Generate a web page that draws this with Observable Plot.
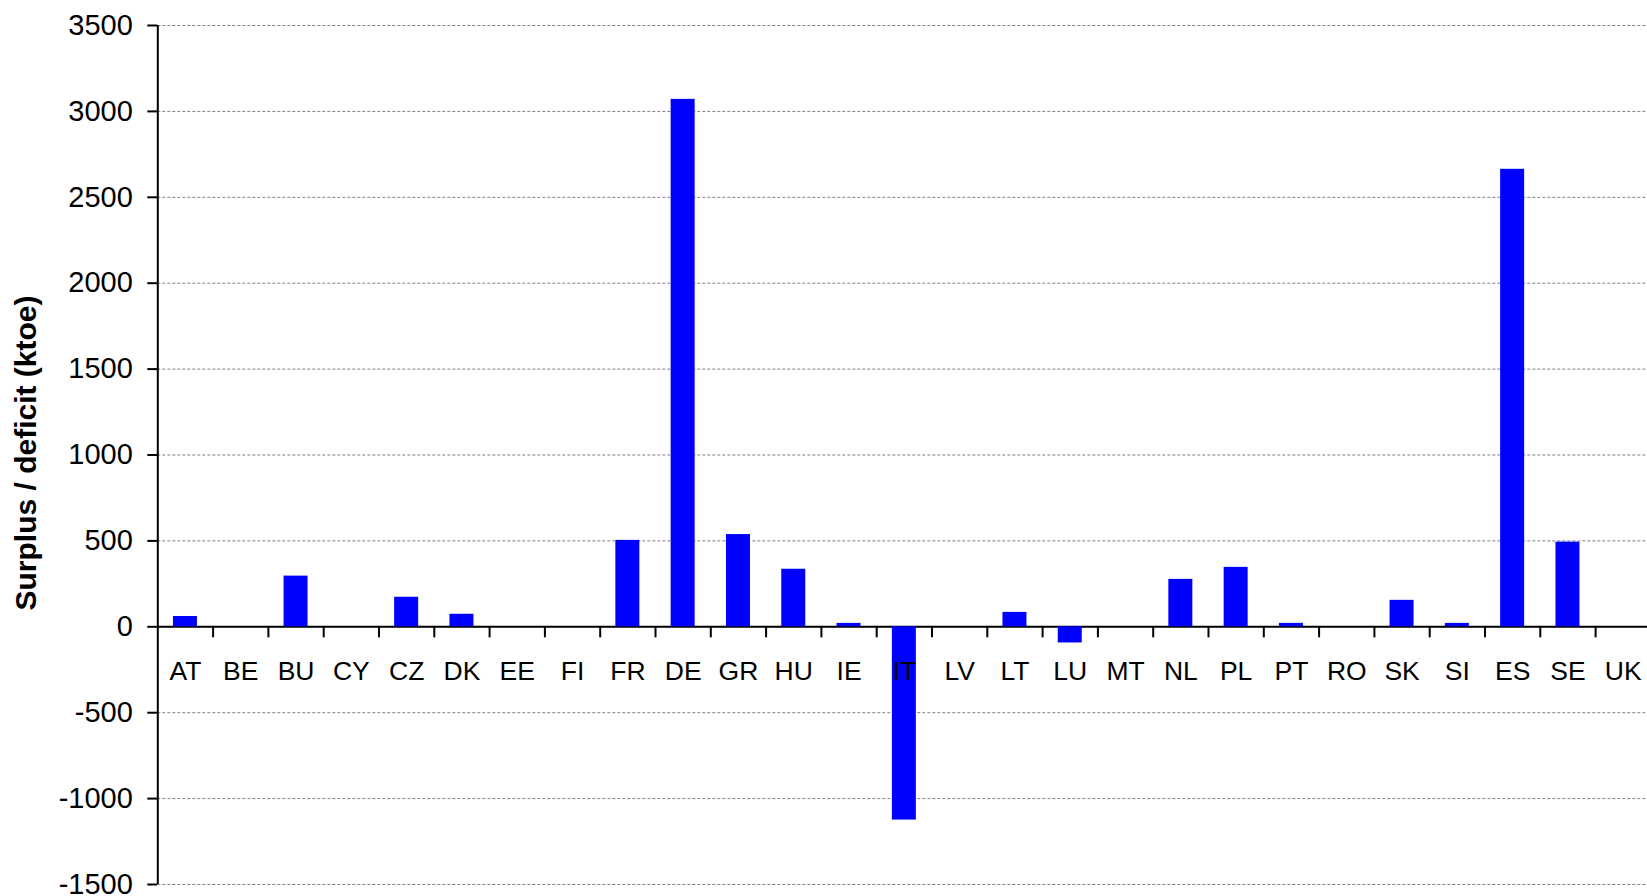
<!DOCTYPE html>
<html>
<head>
<meta charset="utf-8">
<script src="https://cdn.jsdelivr.net/npm/d3@7"></script>
<script src="https://cdn.jsdelivr.net/npm/@observablehq/plot@0.6"></script>
<style>
  html, body { margin: 0; padding: 0; background: #fff; overflow: hidden; }
</style>
</head>
<body>
<div id="chart"></div>
<script>
const countries = ["AT","BE","BU","CY","CZ","DK","EE","FI","FR","DE","GR","HU","IE","IT","LV","LT","LU","MT","NL","PL","PT","RO","SK","SI","ES","SE","UK"];
const values    = [60, 0, 295, 0, 172, 73, 0, 0, 503, 3070, 537, 335, 20, -1125, 0, 84, -94, 0, 276, 346, 20, 0, 154, 20, 2663, 493, 0];
const yTicks = [-1500, -1000, -500, 0, 500, 1000, 1500, 2000, 2500, 3000, 3500];
const yLabel = "Surplus / deficit (ktoe)";

const data = countries.map((c, i) => ({country: c, value: values[i]}));

const W = 1647, H = 896;
const left = 157.3, right = 1650.4;
const step = (right - left) / countries.length;

const chart = Plot.plot({
  width: W,
  height: H,
  marginLeft: left,
  marginRight: 0,
  marginTop: 25,
  marginBottom: 12,
  style: {fontFamily: "'Liberation Sans', Arial, Helvetica, sans-serif", background: "#fff", color: "#000", overflow: "visible"},
  x: {type: "band", domain: countries, range: [left, right], paddingInner: 0.566, paddingOuter: 0.283, round: false, axis: null},
  y: {domain: [-1500, 3500]},
  marks: [
    Plot.gridY(yTicks, {stroke: "#808080", strokeOpacity: 1, strokeWidth: 1, strokeDasharray: "3,2"}),
    Plot.ruleY([0], {stroke: "#000", strokeWidth: 2}),
    Plot.barY(data, {x: "country", y: "value", fill: "#0000ff"}),
    Plot.ruleX(countries.slice(0, -1), {x: d => d, dx: step / 2, y1: 0, y2: 0, insetBottom: -11, stroke: "#000", strokeWidth: 2}),
    Plot.ruleX([countries[0]], {x: d => d, dx: -step / 2, stroke: "#000", strokeWidth: 2}),
    Plot.axisY(yTicks, {tickSize: 10, tickPadding: 15, tickFormat: d => String(d), fontSize: 29, label: null, strokeWidth: 2}),
    Plot.text(data, {x: "country", y: 0, dy: 45, text: "country", fontSize: 26.5, fill: "#000"}),
    Plot.text([yLabel], {frameAnchor: "left", textAnchor: "middle", dx: -131, dy: -2, rotate: -90, text: d => d, fontSize: 30, fontWeight: "bold", fill: "#000"})
  ]
});
document.getElementById("chart").appendChild(chart);
</script>
</body>
</html>
